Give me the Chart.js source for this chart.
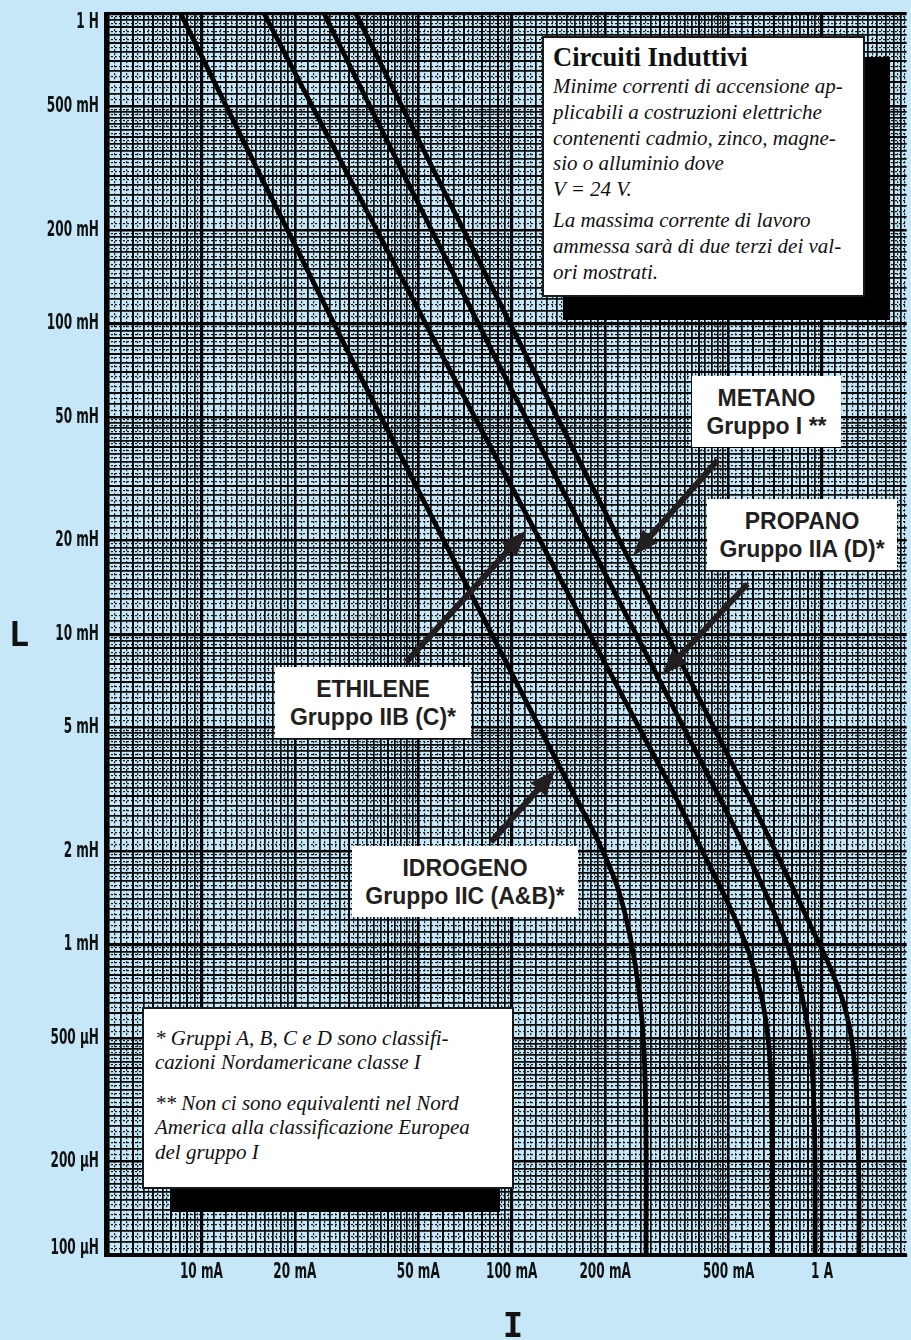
<!DOCTYPE html>
<html lang="it">
<head>
<meta charset="utf-8">
<title>Circuiti Induttivi – correnti minime di accensione</title>
<script src="https://cdn.jsdelivr.net/npm/chart.js@4.4.1/dist/chart.umd.min.js"></script>
<style>
  html, body { margin: 0; padding: 0; background: #c6e7f8; }
  #wrap { position: relative; width: 911px; height: 1340px; overflow: hidden; background: #c6e7f8; }
  #wrap canvas { position: absolute; left: 0; top: 0; }
  .shadow { position: absolute; background: #000; }
  .box { position: absolute; background: #fff; box-sizing: border-box; color: #111; }
  .framed { border: 2px solid #1a1a1a; }
  .serif { font-family: 'Liberation Serif', 'Times New Roman', serif; }
  .title { font-weight: bold; font-size: 26.5px; line-height: 28px; }
  .it { font-style: italic; font-size: 21px; }
  .gas { display: flex; flex-direction: column; justify-content: center; align-items: center;
         font: bold 23px/28px 'Liberation Sans', Arial, sans-serif; color: #231f20; white-space: nowrap; }
  .axis-title { position: absolute; font: bold 34px/34px 'DejaVu Sans Mono', monospace; color: #111; text-align: center; }
</style>
</head>
<body>
<div id="wrap">
  <canvas id="grafico"></canvas>

  <!-- riquadro descrittivo in alto a destra -->
  <div class="shadow" style="left:563px; top:57px; width:327px; height:263px;"></div>
  <div class="box framed serif" style="left:542px; top:36px; width:323px; height:261px; padding:4.6px 0 0 9px;">
    <div class="title">Circuiti Induttivi</div>
    <div class="it" style="line-height:25.7px; margin-top:3.5px;">Minime correnti di accensione ap-<br>plicabili a costruzioni elettriche<br>contenenti cadmio, zinco, magne-<br>sio o alluminio dove<br>V = 24 V.</div>
    <div class="it" style="line-height:25.7px; margin-top:5.5px;">La massima corrente di lavoro<br>ammessa sarà di due terzi dei val-<br>ori mostrati.</div>
  </div>

  <!-- note sui gruppi -->
  <div class="shadow" style="left:172px; top:1030px; width:328px; height:182px;"></div>
  <div class="box framed serif" style="left:142px; top:1007px; width:372px; height:182px; padding:16.7px 0 0 11px;">
    <div class="it" style="line-height:24.5px;">* Gruppi A, B, C e D sono classifi-<br>cazioni Nordamericane classe I</div>
    <div class="it" style="line-height:24.5px; margin-top:16px;">** Non ci sono equivalenti nel Nord<br>America alla classificazione Europea<br>del gruppo I</div>
  </div>

  <!-- etichette dei gas -->
  <div class="box gas" style="left:692px; top:376px; width:149px; height:71px;"><span>METANO</span><span>Gruppo I **</span></div>
  <div class="box gas" style="left:707px; top:499px; width:190px; height:71px;"><span>PROPANO</span><span>Gruppo IIA (D)*</span></div>
  <div class="box gas" style="left:275px; top:667px; width:196px; height:71px;"><span>ETHILENE</span><span>Gruppo IIB (C)*</span></div>
  <div class="box gas" style="left:352px; top:846px; width:226px; height:71px;"><span>IDROGENO</span><span>Gruppo IIC (A&amp;B)*</span></div>

  <!-- titoli degli assi -->
  <div class="axis-title" style="left:6px; top:617px; width:26px;">L</div>
  <div class="axis-title" style="left:493px; top:1308px; width:40px;">I</div>
</div>

<script>
// Corrente minima di accensione I (mA) in funzione dell'induttanza L (mH), V = 24 V
const idrogenoI = [8.56, 30.9, 151.1, 188.7, 218.7, 240.7, 257.2, 266.9, 270.9, 270.9];
const idrogenoL = [1000, 74.9, 3.343, 2.18, 1.537, 1.061, 0.706, 0.453, 0.2326, 0.1];

const etileneI = [15.9, 61.4, 318.5, 366.4, 431.1, 503.4, 579.1, 637.5, 671.3, 686.3, 691.4, 691.4];
const etileneL = [1000, 74.9, 3.343, 2.523, 1.822, 1.325, 0.950, 0.681, 0.488, 0.337, 0.216, 0.1];

const propanoI = [24.8, 90.2, 474.5, 570.6, 661.4, 749.9, 819.1, 868.9, 908.3, 928.6, 942.4, 949.4, 949.4];
const propanoL = [1000, 74.9, 2.883, 1.991, 1.448, 1.077, 0.843, 0.656, 0.506, 0.399, 0.290, 0.186, 0.1];

const metanoI = [31.4, 114.2, 592.0, 749.9, 921.8, 1068.6, 1176.4, 1247.8, 1285.2, 1304.3, 1314.0, 1314.0];
const metanoL = [1000, 74.9, 2.883, 1.769, 1.142, 0.831, 0.641, 0.488, 0.363, 0.250, 0.161, 0.1];

// Etichette degli assi (valori in mH e mA)
const yTickValues = [1000, 500, 200, 100, 50, 20, 10, 5, 2, 1, 0.5, 0.2, 0.1];
const yTickLabels = ['1 H', '500 mH', '200 mH', '100 mH', '50 mH', '20 mH', '10 mH', '5 mH', '2 mH', '1 mH', '500 µH', '200 µH', '100 µH'];
const xTickValues = [10, 20, 50, 100, 200, 500, 1000];
const xTickLabels = ['10 mA', '20 mA', '50 mA', '100 mA', '200 mA', '500 mA', '1 A'];

// Estremi della carta logaritmica
const xRange = [4.89, 1873];
const yRange = [0.1, 1000];

// Frecce che collegano le etichette alle curve: coda -> punta, in (mA, mH)
const frecce = [
  { da: [460.8, 36.3], a: [246, 17.9] },
  { da: [575, 14.5], a: [305, 7.38] },
  { da: [45.7, 8.13], a: [111.7, 21.6] },
  { da: [85.7, 2.14], a: [138.4, 3.65] }
];

const serie = [
  { nome: 'Idrogeno – Gruppo IIC', I: idrogenoI, L: idrogenoL },
  { nome: 'Etilene – Gruppo IIB', I: etileneI, L: etileneL },
  { nome: 'Propano – Gruppo IIA', I: propanoI, L: propanoL },
  { nome: 'Metano – Gruppo I', I: metanoI, L: metanoL }
];

// Suddivisioni della carta log: righe fitte dentro ogni decade
function gridValues(min, max) {
  const parts = [[1, 2, 0.05], [2, 5, 0.1], [5, 10, 0.25]];
  const out = [];
  for (let e = Math.floor(Math.log10(min)); e <= Math.ceil(Math.log10(max)); e++) {
    const b = Math.pow(10, e);
    for (const [a, z, s] of parts) {
      const n = Math.round((z - a) / s);
      for (let k = 0; k < n; k++) {
        const v = +((a + k * s) * b).toPrecision(8);
        if (v >= min * 0.99999 && v <= max * 1.00001) out.push(v);
      }
    }
  }
  return out;
}

function mantissa(v) {
  const e = Math.floor(Math.log10(v) + 1e-9);
  return Math.round(v / Math.pow(10, e) * 1000) / 1000;
}

function level(v) {
  const m = mantissa(v);
  if (m === 1) return 0;
  if (m === 2 || m === 5) return 1;
  if (Math.abs(m - Math.round(m)) < 1e-6) return 2;
  let f;
  if (m < 2) f = m * 10; else if (m < 5) f = m * 5; else f = m * 2;
  return Math.abs(f - Math.round(f)) < 1e-6 ? 3 : 4;
}

const lineStyles = [
  { w: 3.2, c: '#000', d: [] },
  { w: 2.6, c: '#000', d: [] },
  { w: 2, c: '#050505', d: [] },
  { w: 1.7, c: '#0d0d0d', d: [] },
  { w: 1.2, c: '#151515', d: [2, 2] }
];

function styleOf(ctx) {
  if (!ctx || !ctx.tick) return lineStyles[0];
  return lineStyles[level(ctx.tick.value)];
}

const gridOpts = {
  drawTicks: false,
  color: ctx => styleOf(ctx).c,
  lineWidth: ctx => styleOf(ctx).w
};

// Frecce delle etichette
const arrowPlugin = {
  id: 'frecce',
  afterDatasetsDraw(chart) {
    const { ctx, scales: { x, y } } = chart;
    ctx.save();
    ctx.strokeStyle = '#231f20';
    ctx.fillStyle = '#231f20';
    ctx.lineWidth = 6;
    for (const f of frecce) {
      const x0 = x.getPixelForValue(f.da[0]), y0 = y.getPixelForValue(f.da[1]);
      const x1 = x.getPixelForValue(f.a[0]), y1 = y.getPixelForValue(f.a[1]);
      const ang = Math.atan2(y1 - y0, x1 - x0);
      const hl = 26, hw = 10;
      const bx = x1 - hl * Math.cos(ang), by = y1 - hl * Math.sin(ang);
      ctx.beginPath();
      ctx.moveTo(x0, y0);
      ctx.lineTo(bx + 2 * Math.cos(ang), by + 2 * Math.sin(ang));
      ctx.stroke();
      ctx.beginPath();
      ctx.moveTo(x1, y1);
      ctx.lineTo(bx + hw * Math.sin(ang), by - hw * Math.cos(ang));
      ctx.lineTo(bx - hw * Math.sin(ang), by + hw * Math.cos(ang));
      ctx.closePath();
      ctx.fill();
    }
    ctx.restore();
  }
};

// Etichette delle scale in carattere stretto, posizionate con le scale del grafico
const tickLabelPlugin = {
  id: 'etichetteScale',
  afterDraw(chart) {
    const { ctx, chartArea: a, scales: { x, y } } = chart;
    ctx.save();
    ctx.fillStyle = '#111';
    ctx.font = "bold 22px 'DejaVu Sans', sans-serif";
    ctx.textAlign = 'right';
    ctx.textBaseline = 'middle';
    yTickValues.forEach((v, i) => {
      let py = y.getPixelForValue(v);
      py = Math.min(Math.max(py, a.top + 9), a.bottom - 7);
      ctx.save();
      ctx.translate(a.left - 6, py);
      ctx.scale(0.55, 1);
      ctx.fillText(yTickLabels[i], 0, 0);
      ctx.restore();
    });
    ctx.textAlign = 'center';
    ctx.textBaseline = 'top';
    xTickValues.forEach((v, i) => {
      const px = x.getPixelForValue(v);
      ctx.save();
      ctx.translate(px, a.bottom + 6);
      ctx.scale(0.55, 1);
      ctx.fillText(xTickLabels[i], 0, 0);
      ctx.restore();
    });
    ctx.restore();
  }
};

const xGrid = gridValues(xRange[0], xRange[1]);
const yGrid = gridValues(yRange[0], yRange[1]);

new Chart(document.getElementById('grafico'), {
  type: 'scatter',
  data: {
    datasets: serie.map(s => ({
      label: s.nome,
      data: s.I.map((v, i) => ({ x: v, y: s.L[i] })),
      showLine: true,
      borderColor: '#000',
      borderWidth: 4.8,
      pointRadius: 0,
      tension: 0.4,
      fill: false
    }))
  },
  options: {
    responsive: true,
    maintainAspectRatio: false,
    animation: false,
    events: [],
    layout: { padding: { top: 10, right: 0, bottom: 0, left: 0 } },
    plugins: { legend: { display: false }, tooltip: { enabled: false } },
    scales: {
      x: {
        type: 'logarithmic',
        min: xRange[0],
        max: xRange[1],
        afterBuildTicks: s => { s.ticks = xGrid.map(v => ({ value: v })); },
        afterFit: s => { s.height = 85; },
        grid: gridOpts,
        border: { display: true, color: '#000', width: 3, dash: ctx => styleOf(ctx).d },
        ticks: { autoSkip: false, maxRotation: 0, minRotation: 0, padding: 6, callback: () => '' }
      },
      y: {
        type: 'logarithmic',
        min: yRange[0],
        max: yRange[1],
        afterBuildTicks: s => { s.ticks = yGrid.map(v => ({ value: v })); },
        afterFit: s => { s.width = 105; },
        grid: gridOpts,
        border: { display: true, color: '#000', width: 3, dash: ctx => styleOf(ctx).d },
        ticks: { autoSkip: false, padding: 6, callback: () => '' }
      }
    }
  },
  plugins: [arrowPlugin, tickLabelPlugin]
});
</script>
</body>
</html>
